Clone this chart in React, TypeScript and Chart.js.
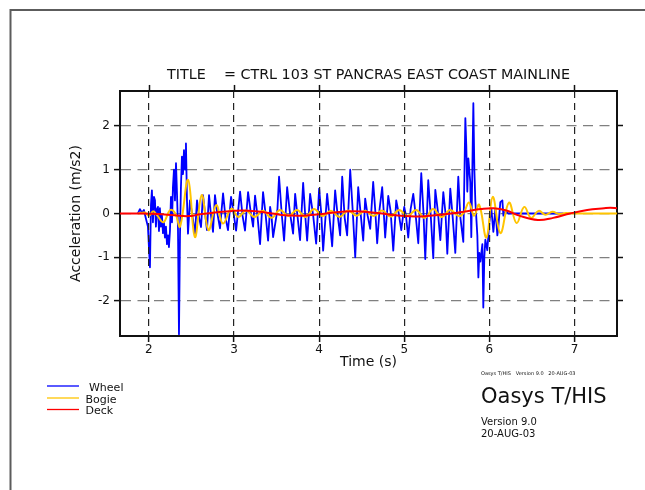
import { useEffect, useRef } from "react";
import { Chart, registerables } from "chart.js";

Chart.register(...registerables);

// Wheel acceleration samples (time in s, acceleration in m/s2)
const wheelTime = [
  1.871, 1.894, 1.918, 1.941, 1.965, 1.988, 2.012, 2.024, 2.035, 2.047,
  2.059, 2.071, 2.082, 2.094, 2.106, 2.118, 2.129, 2.141, 2.153, 2.165,
  2.176, 2.188, 2.2, 2.212, 2.224, 2.235, 2.247, 2.259, 2.271, 2.282,
  2.294, 2.306, 2.318, 2.329, 2.341, 2.353, 2.365, 2.376, 2.388, 2.4,
  2.412, 2.424, 2.435, 2.447, 2.459, 2.482, 2.51, 2.541, 2.565, 2.59,
  2.612, 2.635, 2.66, 2.682, 2.706, 2.73, 2.753, 2.776, 2.8, 2.835,
  2.871, 2.9, 2.929, 2.965, 2.995, 3.024, 3.071, 3.1, 3.129, 3.165,
  3.195, 3.224, 3.247, 3.275, 3.306, 3.341, 3.37, 3.4, 3.424, 3.44,
  3.459, 3.49, 3.51, 3.529, 3.56, 3.588, 3.624, 3.655, 3.694, 3.718,
  3.745, 3.776, 3.812, 3.835, 3.859, 3.894, 3.93, 3.965, 4.0, 4.025,
  4.047, 4.094, 4.12, 4.153, 4.188, 4.215, 4.247, 4.271, 4.3, 4.329,
  4.365, 4.395, 4.424, 4.459, 4.49, 4.518, 4.541, 4.57, 4.6, 4.635,
  4.66, 4.682, 4.71, 4.741, 4.76, 4.776, 4.812, 4.84, 4.871, 4.906,
  4.935, 4.965, 5.0, 5.02, 5.047, 5.075, 5.106, 5.135, 5.165, 5.2,
  5.225, 5.247, 5.282, 5.31, 5.341, 5.365, 5.395, 5.424, 5.459, 5.485,
  5.506, 5.541, 5.57, 5.6, 5.635, 5.66, 5.694, 5.718, 5.729, 5.741,
  5.753, 5.776, 5.788, 5.812, 5.824, 5.835, 5.859, 5.871, 5.882, 5.894,
  5.918, 5.929, 5.941, 5.953, 5.976, 6.0, 6.024, 6.047, 6.071, 6.094,
  6.106, 6.129, 6.153, 6.165, 6.188, 6.224, 6.871,
];
const wheelAccel = [
  0, 0.1, 0.02, 0.08, -0.12, -0.3, -1.23, 0.2, 0.53, -0.2,
  0.38, 0.3, -0.3, 0.1, 0.15, -0.4, 0.12, -0.3, -0.05, -0.45,
  -0.2, -0.55, -0.3, -0.7, -0.5, -0.77, -0.4, 0.38, -0.2, 0.6,
  1.0, 0.3, 1.15, 0.5, -0.3, -2.76, -0.5, 0.6, 1.3, 0.9,
  1.45, 1.0, 1.6, 0.3, -0.46, 0.3, -0.05, -0.46, 0.3, -0.1,
  -0.31, 0.42, 0.0, -0.38, 0.42, -0.05, -0.42, 0.42, 0.05, -0.34,
  0.46, -0.1, -0.38, 0.38, 0.0, -0.39, 0.5, -0.05, -0.39, 0.49,
  0.05, -0.3, 0.41, -0.05, -0.7, 0.49, 0.0, -0.62, 0.15, -0.05,
  -0.54, -0.16, 0.1, 0.84, 0.0, -0.62, 0.6, 0.05, -0.46, 0.45,
  -0.05, -0.61, 0.7, 0.0, -0.62, 0.45, -0.05, -0.69, 0.57, 0.0,
  -0.85, 0.45, -0.05, -0.75, 0.53, 0.0, -0.5, 0.84, -0.1, -0.5,
  1.0, 0.05, -1.0, 0.6, -0.05, -0.62, 0.34, -0.05, -0.35, 0.72,
  0.05, -0.68, 0.1, 0.6, 0.0, -0.55, 0.4, 0.05, -0.85, 0.3,
  0.0, -0.38, 0.15, -0.05, -0.55, 0.1, 0.45, -0.05, -0.68, 0.92,
  0.05, -1.04, 0.76, 0.0, -1.02, 0.54, 0.05, -0.61, 0.49, 0.0,
  -0.92, 0.57, -0.1, -0.9, 0.84, -0.1, -0.65, 2.18, 1.56, 0.5,
  1.26, 0.72, -0.54, 2.52, 1.0, 0.3, -0.5, -1.46, -0.9, -1.1,
  -0.7, -2.15, -1.0, -0.6, -0.84, -0.2, 0.1, -0.42, 0.1, -0.5,
  -0.3, 0.26, 0.3, -0.05, 0.05, 0, 0,
];

// Bogie acceleration samples
const bogieTime = [
  1.87, 1.95, 2.0, 2.05, 2.1, 2.17, 2.25, 2.31, 2.365, 2.46,
  2.54, 2.62, 2.7, 2.79, 2.87, 2.97, 3.05, 3.14, 3.24, 3.34,
  3.44, 3.54, 3.64, 3.74, 3.84, 3.94, 4.04, 4.14, 4.24, 4.34,
  4.44, 4.54, 4.64, 4.74, 4.84, 4.94, 5.04, 5.14, 5.24, 5.34,
  5.44, 5.54, 5.64, 5.7, 5.76, 5.82, 5.88, 5.965, 6.04, 6.13,
  6.23, 6.32, 6.41, 6.49, 6.58, 6.66, 6.74, 6.82, 6.9, 7.0,
  7.5,
];
const bogieAccel = [
  0, 0.02, -0.05, 0.05, -0.05, -0.2, 0.08, 0.0, -0.3, 0.77,
  -0.54, 0.42, -0.38, 0.19, -0.23, 0.11, -0.08, 0.07, -0.08, 0.06,
  -0.1, 0.08, -0.06, 0.08, -0.08, 0.1, -0.06, 0.06, -0.08, 0.07,
  -0.05, 0.06, -0.06, 0.07, -0.07, 0.08, -0.06, 0.08, -0.1, 0.1,
  -0.08, 0.08, -0.06, 0.02, 0.25, -0.05, 0.2, -0.55, 0.38, -0.45,
  0.25, -0.22, 0.15, -0.1, 0.06, -0.03, 0.04, -0.01, 0.01, 0,
  0,
];

// Deck acceleration samples
const deckTime = [
  1.66, 1.9, 2.1, 2.3, 2.46, 2.6, 2.8, 3.0, 3.1, 3.25,
  3.45, 3.6, 3.8, 4.0, 4.2, 4.4, 4.6, 4.8, 5.0, 5.15,
  5.3, 5.5, 5.7, 5.9, 6.05, 6.2, 6.35, 6.57, 6.75, 6.95,
  7.15, 7.35, 7.42, 7.5,
];
const deckAccel = [
  0, 0, -0.01, -0.04, -0.06, -0.02, 0.03, 0.06, 0.07, 0.05,
  0.0, -0.04, -0.05, -0.02, 0.03, 0.05, 0.03, -0.02, -0.06, -0.07,
  -0.05, -0.01, 0.04, 0.1, 0.12, 0.07, -0.05, -0.15, -0.1, 0.0,
  0.08, 0.12, 0.13, 0.12,
];

const seriesNames = ["Wheel", "Bogie", "Deck"];
const seriesColors = ["#0000ff", "#ffc400", "#ff0000"];

const chartTitle = "TITLE    = CTRL 103 ST PANCRAS EAST COAST MAINLINE";
const xTitle = "Time (s)";
const yTitle = "Acceleration (m/s2)";
const stampLine = "Oasys T/HIS   Version 9.0   20-AUG-03";
const brandName = "Oasys T/HIS";
const versionLine = "Version 9.0";
const dateLine = "20-AUG-03";

const FONT = "'DejaVu Sans', 'Liberation Sans', sans-serif";
const INK = "#111111";

const toPoints = (xs: number[], ys: number[]) =>
  xs.map((x, i) => ({ x, y: ys[i] }));

// Page frame, top edge of the plot box, legend key and program stamp
const pageNotes = {
  id: "pageNotes",
  beforeDraw(chart: any) {
    const { ctx, width, height } = chart;
    ctx.save();
    ctx.fillStyle = "#ffffff";
    ctx.fillRect(0, 0, width, height);
    ctx.strokeStyle = "#5c5c5c";
    ctx.lineWidth = 2;
    ctx.beginPath();
    ctx.moveTo(10.5, height);
    ctx.lineTo(10.5, 10);
    ctx.lineTo(width, 10);
    ctx.stroke();
    ctx.restore();
  },
  afterDraw(chart: any) {
    const { ctx, chartArea } = chart;
    const xScale = chart.scales.x;
    ctx.save();

    // top edge of the plot box with outward tick marks
    ctx.strokeStyle = INK;
    ctx.lineWidth = 2;
    ctx.beginPath();
    ctx.moveTo(chartArea.left - 1, chartArea.top);
    ctx.lineTo(chartArea.right + 1, chartArea.top);
    ctx.stroke();
    ctx.lineWidth = 1.5;
    xScale.ticks.forEach((t: any) => {
      const px = Math.round(xScale.getPixelForValue(t.value)) + 0.5;
      ctx.beginPath();
      ctx.moveTo(px, chartArea.top - 6);
      ctx.lineTo(px, chartArea.top);
      ctx.stroke();
    });

    const lineY = [386, 398, 409.5];
    const textY = [390.5, 402.5, 414];
    seriesNames.forEach((name, i) => {
      ctx.strokeStyle = seriesColors[i];
      ctx.lineWidth = 1.3;
      ctx.beginPath();
      ctx.moveTo(47, lineY[i]);
      ctx.lineTo(79, lineY[i]);
      ctx.stroke();
      ctx.fillStyle = INK;
      ctx.font = `11px ${FONT}`;
      ctx.textBaseline = "alphabetic";
      ctx.textAlign = "left";
      ctx.fillText(i === 0 ? " " + name : name, 85.5, textY[i]);
    });
    ctx.fillStyle = INK;
    ctx.font = `5px ${FONT}`;
    ctx.fillText(stampLine, 481, 375);
    ctx.font = `21px ${FONT}`;
    ctx.fillText(brandName, 481, 403);
    ctx.font = `10px ${FONT}`;
    ctx.fillText(versionLine, 481, 425);
    ctx.fillText(dateLine, 481, 437);
    ctx.restore();
  },
};

export default function App() {
  const canvasRef = useRef<HTMLCanvasElement | null>(null);

  useEffect(() => {
    const canvas = canvasRef.current;
    if (!canvas) return;
    Chart.defaults.font.family = FONT;
    Chart.defaults.color = INK;

    const chart = new Chart(canvas, {
      type: "line",
      data: {
        datasets: [
          {
            label: seriesNames[0],
            data: toPoints(wheelTime, wheelAccel),
            borderColor: seriesColors[0],
            borderWidth: 1.8,
            borderJoinStyle: "round",
            pointRadius: 0,
            tension: 0,
            order: 3,
          },
          {
            label: seriesNames[1],
            data: toPoints(bogieTime, bogieAccel),
            borderColor: seriesColors[1],
            borderWidth: 2,
            borderJoinStyle: "round",
            pointRadius: 0,
            tension: 0.4,
            order: 2,
          },
          {
            label: seriesNames[2],
            data: toPoints(deckTime, deckAccel),
            borderColor: seriesColors[2],
            borderWidth: 2,
            borderJoinStyle: "round",
            pointRadius: 0,
            tension: 0.4,
            order: 1,
          },
        ],
      },
      options: {
        animation: false,
        responsive: false,
        devicePixelRatio: 1,
        events: [],
        layout: { padding: { left: 0, right: 22, top: 66.4, bottom: 114 } },
        plugins: {
          legend: { display: false },
          tooltip: { enabled: false },
          title: {
            display: true,
            text: chartTitle,
            fullSize: false,
            color: INK,
            font: { family: FONT, size: 14.3, weight: "normal", lineHeight: 1.2 },
            padding: { top: 0, bottom: 7.4 },
          },
        },
        scales: {
          x: {
            type: "linear",
            position: "bottom",
            min: 1.66,
            max: 7.5,
            afterFit: (s: any) => {
              s.height = 40;
            },
            ticks: { stepSize: 1, includeBounds: false, padding: 1, color: INK, font: { size: 12 } },
            grid: {
              color: "#222222",
              lineWidth: 1.2,
              z: 1,
              tickLength: 6,
              tickColor: INK,
              tickWidth: 1.5,
            },
            border: { display: true, color: INK, width: 2, dash: [7, 5], z: 1 },
            title: {
              display: true,
              text: xTitle,
              color: INK,
              font: { size: 14, lineHeight: 1.2 },
              padding: { top: 0, bottom: 5.6 },
            },
          },
          y: {
            type: "linear",
            position: "left",
            min: -2.8,
            max: 2.8,
            afterFit: (s: any) => {
              s.width = 120;
            },
            ticks: { stepSize: 1, includeBounds: false, padding: 4, color: INK, font: { size: 12 } },
            grid: {
              color: "#808080",
              lineWidth: 1.2,
              tickLength: 6,
              tickColor: INK,
              tickWidth: 1.5,
            },
            border: { display: true, color: INK, width: 2, dash: [10, 6.5] },
            title: {
              display: true,
              text: yTitle,
              color: INK,
              font: { size: 14, lineHeight: 1.2 },
              padding: { top: 67.6, bottom: 0 },
            },
          },
          y2: {
            type: "linear",
            position: "right",
            min: -2.8,
            max: 2.8,
            ticks: { stepSize: 1, includeBounds: false, display: false },
            grid: {
              drawOnChartArea: false,
              tickLength: 6,
              tickColor: INK,
              tickWidth: 1.5,
            },
            border: { display: true, color: INK, width: 2 },
          },
        },
      },
      plugins: [pageNotes],
    } as any);

    return () => chart.destroy();
  }, []);

  return (
    <div
      style={{
        position: "absolute",
        left: 0,
        top: 0,
        width: 645,
        height: 490,
        background: "#ffffff",
      }}
    >
      <canvas
        ref={canvasRef}
        width={645}
        height={490}
        style={{ display: "block", width: 645, height: 490 }}
      />
    </div>
  );
}
